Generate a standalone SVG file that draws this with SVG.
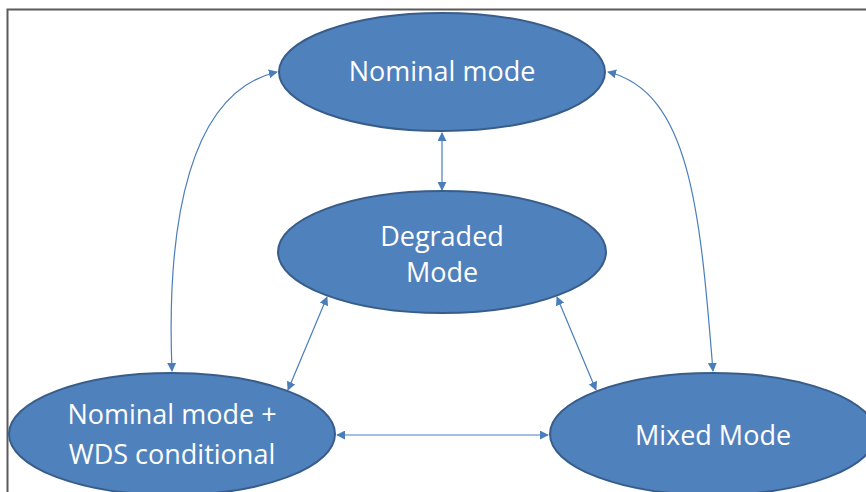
<svg xmlns="http://www.w3.org/2000/svg" width="866" height="492" viewBox="0 0 866 492">
  <style>
    .node { fill: #4F81BD; stroke: #385D8A; stroke-width: 2; }
    .label { fill: #FFFFFF; font-family: "Open Sans", "Liberation Sans", sans-serif; font-size: 27px; text-anchor: middle; }
    .link { fill: none; stroke: #4A7EBB; stroke-width: 1.2; marker-start: url(#head); marker-end: url(#head); }
  </style>
  <defs>
    <marker id="head" viewBox="0 0 10 10" refX="9" refY="5" markerWidth="9" markerHeight="9" markerUnits="userSpaceOnUse" orient="auto-start-reverse">
      <path d="M0,0 L10,5 L0,10 z" fill="#4A7EBB"/>
    </marker>
  </defs>
  <rect x="7.5" y="9.5" width="880" height="500" fill="#FFFFFF" stroke="#5A5A5A" stroke-width="2"/>

  <g id="connectors">
    <line class="link" x1="442" y1="133" x2="442" y2="190"/>
    <path class="link" d="M172,371 C166,220 190,92 277,72"/>
    <path class="link" d="M713,371 C700,210 690,92 608,72"/>
    <line class="link" x1="327" y1="297" x2="288" y2="390"/>
    <line class="link" x1="557" y1="297" x2="596" y2="390"/>
    <line class="link" x1="337" y1="435" x2="548" y2="435"/>
  </g>

  <g id="nominal">
    <ellipse class="node" cx="442" cy="72" rx="163" ry="59"/>
    <text class="label" x="442" y="81">Nominal mode</text>
  </g>
  <g id="degraded">
    <ellipse class="node" cx="442" cy="252" rx="164" ry="61"/>
    <text class="label" x="442" y="246">Degraded</text>
    <text class="label" x="442" y="282">Mode</text>
  </g>
  <g id="wds">
    <ellipse class="node" cx="172" cy="434" rx="163" ry="61"/>
    <text class="label" x="172" y="424">Nominal mode +</text>
    <text class="label" x="172" y="464">WDS conditional</text>
  </g>
  <g id="mixed">
    <ellipse class="node" cx="713" cy="434" rx="163" ry="61"/>
    <text class="label" x="713" y="445">Mixed Mode</text>
  </g>
</svg>
